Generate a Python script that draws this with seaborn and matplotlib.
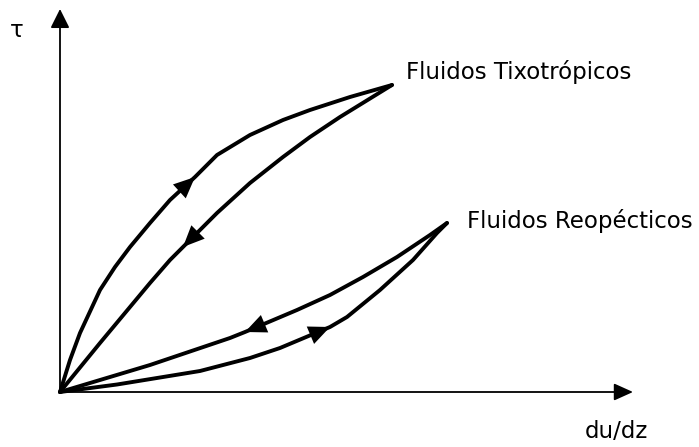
import matplotlib
matplotlib.use("Agg")
import matplotlib.pyplot as plt
import pandas as pd
import seaborn as sns

# Curves (arbitrary units: shear rate, shear stress).
# Thixotropic loop: loading goes up the upper branch, unloading comes back down.
tixo_up_x = [0.0, 1.0, 2.0, 4.0, 5.5, 7.0, 9.0, 11.0, 13.5, 15.7, 19.0, 22.3, 25.0, 29.0, 33.2]
tixo_up_y = [0.0, 3.2, 5.9, 10.2, 12.5, 14.5, 16.9, 19.2, 21.5, 23.7, 25.7, 27.2, 28.2, 29.5, 30.7]
tixo_down_x = [33.2, 28.0, 25.0, 22.3, 19.0, 15.7, 13.0, 12.3, 11.0, 9.0, 4.0, 0.0]
tixo_down_y = [30.7, 27.5, 25.5, 23.5, 20.9, 17.9, 15.2, 14.5, 13.2, 10.9, 4.9, 0.0]

# Rheopectic loop: loading goes along the lower branch.
reo_up_x = [0.0, 5.7, 14.0, 19.0, 22.0, 27.0, 28.7, 32.0, 35.3, 37.7, 38.7]
reo_up_y = [0.0, 0.75, 2.1, 3.4, 4.4, 6.5, 7.5, 10.2, 13.2, 15.9, 16.9]
reo_down_x = [38.7, 37.0, 33.7, 30.3, 27.0, 23.7, 18.5, 17.0, 9.0, 0.0]
reo_down_y = [16.9, 15.7, 13.5, 11.5, 9.7, 8.2, 6.0, 5.4, 2.7, 0.0]

# which point of each curve carries the direction arrow
arrow_idx = {"tixo_up": 8, "tixo_down": 7, "reo_up": 5, "reo_down": 6}

labels = ["Fluidos Tixotrópicos", "Fluidos Reopécticos"]
x_label = "du/dz"
y_label = "τ"

curves = {
    "tixo_up": (tixo_up_x, tixo_up_y),
    "tixo_down": (tixo_down_x, tixo_down_y),
    "reo_up": (reo_up_x, reo_up_y),
    "reo_down": (reo_down_x, reo_down_y),
}

sns.set_style("white")
plt.rcParams["font.family"] = ["DejaVu Sans"]

fig = plt.figure(figsize=(6.99, 4.47), dpi=100)
ax = fig.add_axes([0, 0, 1, 1])

for name, (xs, ys) in curves.items():
    df = pd.DataFrame({"x": xs, "y": ys})
    sns.lineplot(data=df, x="x", y="y", sort=False, estimator=None,
                 color="black", linewidth=2.8, ax=ax,
                 solid_joinstyle="round", solid_capstyle="round")
    i = arrow_idx[name]
    ax.annotate("", xy=(xs[i], ys[i]), xytext=(xs[i - 1], ys[i - 1]),
                arrowprops=dict(arrowstyle="-|>,head_length=0.45,head_width=0.2",
                                mutation_scale=34, lw=0, color="black",
                                shrinkA=0, shrinkB=0))

# axes drawn as arrows
ax.annotate("", xy=(0, 38.3), xytext=(0, 0),
            arrowprops=dict(arrowstyle="-|>,head_length=0.4,head_width=0.2",
                            mutation_scale=29, lw=1.3, color="black",
                            shrinkA=0, shrinkB=0))
ax.annotate("", xy=(57.3, 0), xytext=(0, 0),
            arrowprops=dict(arrowstyle="-|>,head_length=0.4,head_width=0.18",
                            mutation_scale=29, lw=1.3, color="black",
                            shrinkA=0, shrinkB=0))

ax.text(34.6, 31.3, labels[0], fontsize=16.5, va="baseline", ha="left", color="black")
ax.text(40.7, 16.4, labels[1], fontsize=16.5, va="baseline", ha="left", color="black")
ax.text(55.6, -4.6, x_label, fontsize=16.5, va="baseline", ha="center", color="black")
ax.text(-4.3, 36.2, y_label, fontsize=16.5, va="center", ha="center", color="black")

ax.set_xlim(-6.0, 63.9)
ax.set_ylim(-5.5, 39.2)
ax.axis("off")

fig.savefig("out.png", dpi=100)
